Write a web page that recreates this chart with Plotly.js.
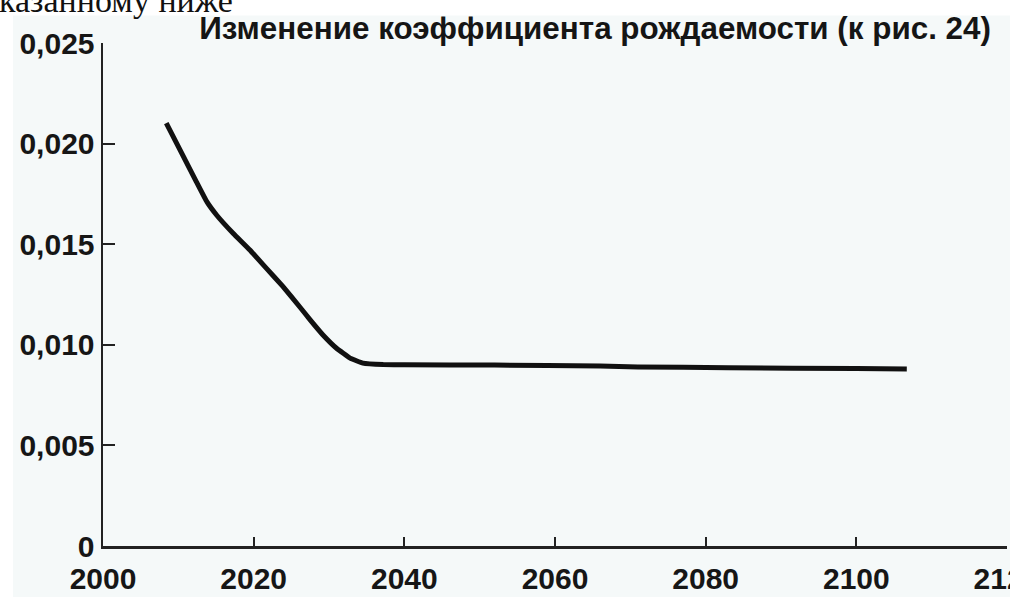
<!DOCTYPE html>
<html>
<head>
<meta charset="utf-8">
<script src="https://cdn.plot.ly/plotly-3.0.1.min.js"></script>
<style>
html,body{margin:0;padding:0;background:#fff;}
#chart{width:1010px;height:597px;}
</style>
</head>
<body>
<div id="chart"></div>
<script>
// Data
var years = [2008.4, 2010.7, 2012.4, 2013.8, 2015.1, 2017.3, 2019.5, 2021.7, 2023.9, 2026.1, 2027.5, 2029.2, 2031.0, 2032.8, 2034.5, 2037.2, 2040.0, 2052.0, 2066.0, 2071.0, 2083.0, 2100.0, 2106.7];
var rate  = [0.02102, 0.01934, 0.01810, 0.01710, 0.01644, 0.01553, 0.01471, 0.01380, 0.01289, 0.01189, 0.01124, 0.01049, 0.00983, 0.00934, 0.00909, 0.00902, 0.00901, 0.00899, 0.00895, 0.00890, 0.00886, 0.00882, 0.00880];

var xTicks = [2000, 2020, 2040, 2060, 2080, 2100, 2120];
var xTickText = ['2000', '2020', '2040', '2060', '2080', '2100', '2120'];
var yTicks = [0, 0.005, 0.010, 0.015, 0.020, 0.025];
var yTickText = ['0', '0,005', '0,010', '0,015', '0,020', '0,025'];

var titleText = 'Изменение коэффициента рождаемости (к рис. 24)';
var pageText = 'казанному ниже';

var trace = {
  x: years,
  y: rate,
  type: 'scatter',
  mode: 'lines',
  line: {color: '#111111', width: 5, shape: 'spline', smoothing: 0.3},
  hoverinfo: 'skip'
};

var L = 103, T = 42.5, R = 1007, B = 546.5;
var W = R - L, H = B - T;
function px2x(p){ return (p - L) / W; }
function py2y(p){ return (B - p) / H; }

var tickFont = {family: 'Liberation Sans, Arial, sans-serif', size: 30, weight: 'bold', color: '#161616'};

var layout = {
  width: 1010,
  height: 597,
  margin: {l: L, r: 1010 - R, t: T, b: 597 - B, pad: 0},
  paper_bgcolor: '#ffffff',
  plot_bgcolor: 'rgba(0,0,0,0)',
  showlegend: false,
  font: {family: 'Liberation Sans, Arial, sans-serif', color: '#111111'},
  title: {
    text: titleText,
    font: {family: 'Liberation Sans, Arial, sans-serif', size: 31.4, weight: 'bold', color: '#151515'},
    xref: 'container', yref: 'container',
    x: 991 / 1010, xanchor: 'right',
    y: 1 - 28 / 597, yanchor: 'middle'
  },
  xaxis: {
    range: [2000, 2120.001],
    tickmode: 'array',
    tickvals: xTicks,
    ticktext: xTickText,
    ticks: 'inside',
    ticklen: 9,
    tickwidth: 2,
    tickcolor: '#222222',
    showline: true,
    linecolor: '#222222',
    linewidth: 2.5,
    showgrid: false,
    zeroline: false,
    tickfont: tickFont,
    ticklabeloverflow: 'allow',
    ticklabelstandoff: 4,
    fixedrange: true
  },
  yaxis: {
    range: [0, 0.025],
    tickmode: 'array',
    tickvals: yTicks,
    ticktext: yTickText,
    ticks: 'inside',
    ticklen: 12,
    tickwidth: 2,
    tickcolor: '#222222',
    showline: true,
    linecolor: '#222222',
    linewidth: 2.5,
    showgrid: false,
    zeroline: false,
    tickfont: tickFont,
    fixedrange: true
  },
  shapes: [{
    type: 'rect', xref: 'paper', yref: 'paper', layer: 'below',
    x0: px2x(13), x1: px2x(1012), y0: py2y(600), y1: py2y(15),
    fillcolor: '#f5f9f9', line: {width: 0}
  }],
  annotations: [{
    text: pageText,
    xref: 'paper', yref: 'paper',
    x: px2x(-3), xanchor: 'left',
    y: py2y(0), yanchor: 'middle',
    showarrow: false,
    font: {family: 'Liberation Serif, Times New Roman, serif', size: 34, color: '#111111'}
  }]
};

Plotly.newPlot('chart', [trace], layout, {displayModeBar: false, staticPlot: true});
</script>
</body>
</html>
